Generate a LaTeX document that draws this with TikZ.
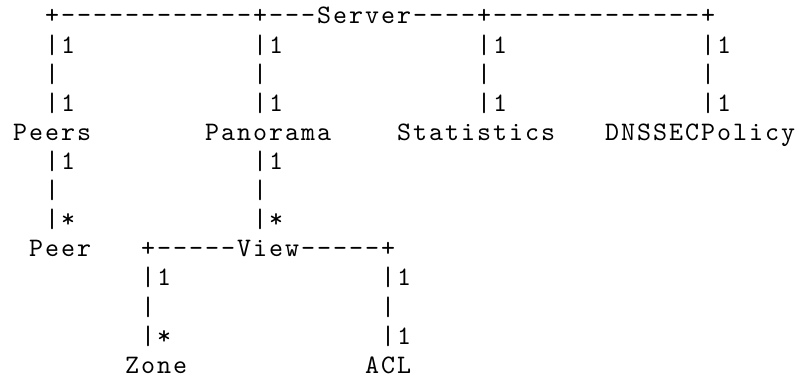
\documentclass[tikz,border=0pt]{standalone}
\usepackage{fontspec}
\setmonofont{lmmono10-regular}[Extension=.otf, LetterSpace=7.5]
\usepackage{tikz}

\tikzset{
  ascii/.style={anchor=base west, inner sep=0pt, outer sep=0pt,
    xshift=0.75pt, font=\ttfamily\fontsize{20}{24}\selectfont},
}

\begin{document}
\begin{tikzpicture}[x=12pt, y=-21.825pt]
            \useasboundingbox (0.25,-0.8247) rectangle (50.1875,12.165);

            % top bus
            \node[ascii] (server) at (3,0) {+------------+---Server----+-------------+};

            % links down from the bus
            \foreach \c/\n in {3/peers,16/panorama,30/statistics,44/dnssec} {
                \node[ascii] (\n-a) at (\c,1) {|1};
                \node[ascii] (\n-b) at (\c,2) {|};
                \node[ascii] (\n-c) at (\c,3) {|1};
            }

            \node[ascii] (peers) at (1,4) {Peers};
            \node[ascii] (panorama) at (13,4) {Panorama};
            \node[ascii] (statistics) at (25,4) {Statistics};
            \node[ascii] (dnssec) at (38,4) {DNSSECPolicy};

            % second level
            \foreach \c/\n in {3/peer,16/view} {
                \node[ascii] (\n-a) at (\c,5) {|1};
                \node[ascii] (\n-b) at (\c,6) {|};
                \node[ascii] (\n-c) at (\c,7) {|*};
            }

            \node[ascii] (peer) at (2,8) {Peer};
            \node[ascii] (view) at (9,8) {+-----View-----+};

            % third level
            \node[ascii] (zone-a) at (9,9) {|1};
            \node[ascii] (zone-b) at (9,10) {|};
            \node[ascii] (zone-c) at (9,11) {|*};
            \node[ascii] (acl-a) at (24,9) {|1};
            \node[ascii] (acl-b) at (24,10) {|};
            \node[ascii] (acl-c) at (24,11) {|1};

            \node[ascii] (zone) at (8,12) {Zone};
            \node[ascii] (acl) at (23,12) {ACL};
        \end{tikzpicture}
\end{document}
